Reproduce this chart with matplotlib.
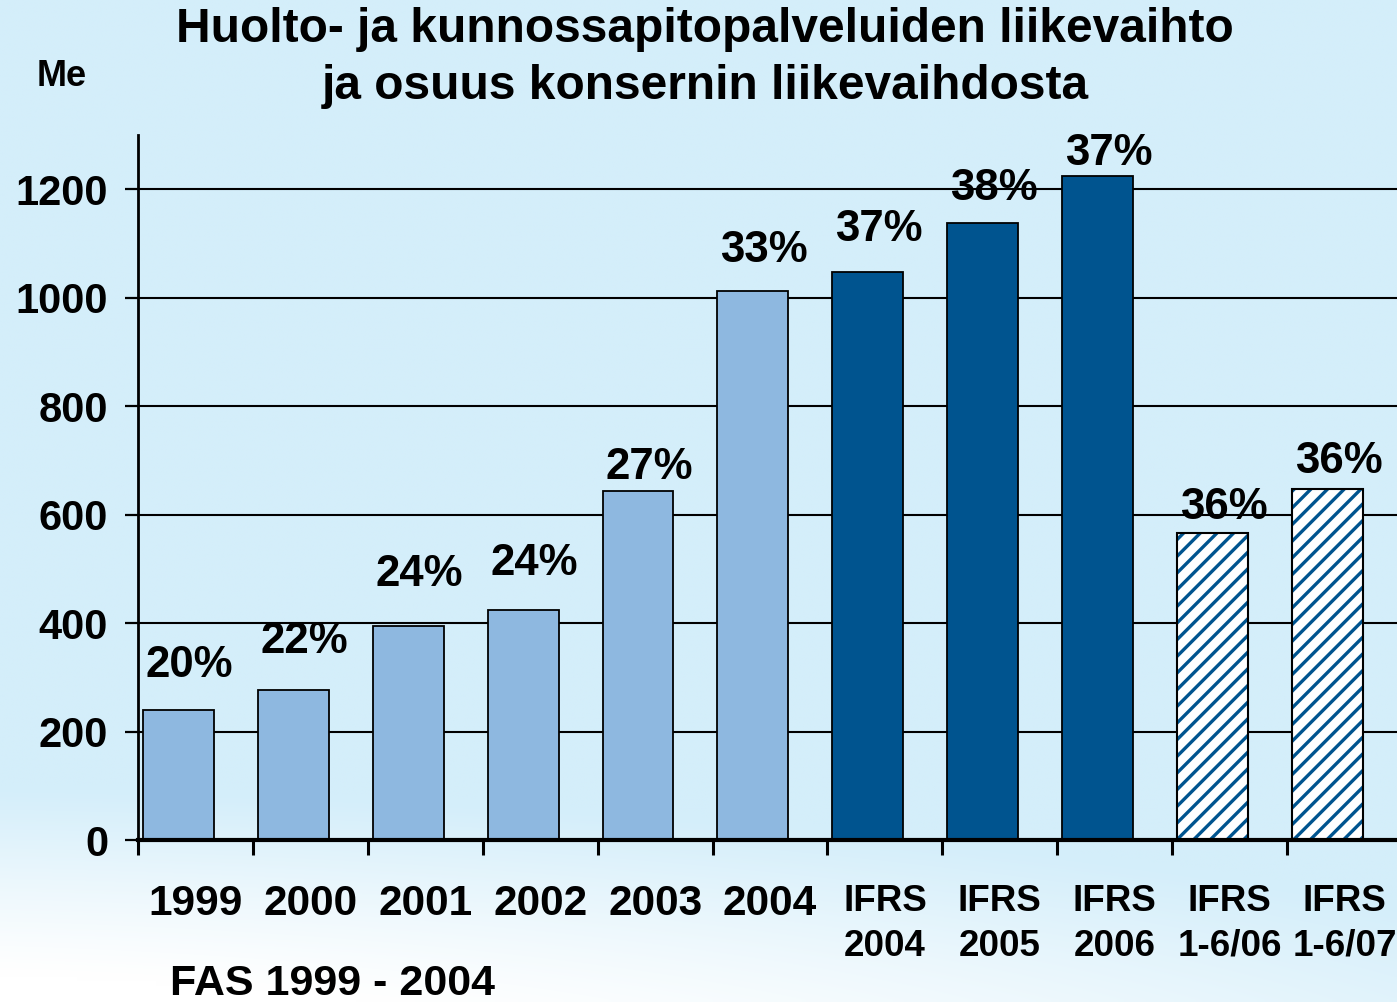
# -*- coding: utf-8 -*-
# huolto- ja kunnossapitopalveluiden liikevaihto pylväinä

import numpy as np
import matplotlib
matplotlib.use('Agg')
import matplotlib.pyplot as plt

plt.rcParams['font.family'] = ['Liberation Sans', 'DejaVu Sans']
plt.rcParams['font.weight'] = 'bold'
plt.rcParams['hatch.linewidth'] = 2.4

# liikevaihto (Me) ja osuus konsernin liikevaihdosta
categories = ['1999', '2000', '2001', '2002', '2003', '2004',
              'IFRS\n2004', 'IFRS\n2005', 'IFRS\n2006', 'IFRS\n1-6/06', 'IFRS\n1-6/07']
revenue = [240, 277, 394, 425, 643, 1013, 1048, 1137, 1224, 566, 647]
share = ['20%', '22%', '24%', '24%', '27%', '33%', '37%', '38%', '37%', '36%', '36%']
kind = ['fas'] * 6 + ['ifrs'] * 3 + ['half'] * 2

# how far each percent label sits above its bar (pixels)
label_lift = [44, 48, 52, 46, 24, 40, 42, 35, 23, 26, 28]

light = '#8EB8E0'
dark = '#00548F'

W, H = 1397, 1002
fig = plt.figure(figsize=(W / 100, H / 100), dpi=100)

# background: pale blue fading to white in the lower left corner
xx, yy = np.meshgrid(np.linspace(0, 1, 300), np.linspace(0, 1, 220))
d = ((xx + 0.15) / 1.35) ** 2 + ((1.12 - yy) / 0.30) ** 2
w = np.clip(1.25 - d, 0, 1) ** 1.2
base = np.array([0xD4, 0xEE, 0xFA]) / 255.0
img = base[None, None, :] * (1 - w[..., None]) + w[..., None]
bgax = fig.add_axes([0, 0, 1, 1])
bgax.imshow(img, aspect='auto', extent=[0, 1, 0, 1], origin='upper', interpolation='bilinear')
bgax.set_axis_off()

ax = fig.add_axes([138 / W, 162 / H, 1264 / W, 705 / H])
ax.patch.set_alpha(0)

x = np.arange(len(categories))
left = x + 0.043
width = 0.617

for i in range(len(categories)):
    if kind[i] == 'fas':
        ax.bar(left[i], revenue[i], width, align='edge', color=light,
               edgecolor='black', linewidth=1.3, zorder=3)
    elif kind[i] == 'ifrs':
        ax.bar(left[i], revenue[i], width, align='edge', color=dark,
               edgecolor='black', linewidth=1.3, zorder=3)
    else:
        ax.bar(left[i], revenue[i], width, align='edge', color='white',
               edgecolor=dark, hatch='//', linewidth=0, zorder=3)
        ax.bar(left[i], revenue[i], width, align='edge', fill=False,
               edgecolor='black', linewidth=1.5, zorder=4)
    ax.annotate(share[i], (x[i] + 0.45, revenue[i]),
                xytext=(0, label_lift[i] * 0.72), textcoords='offset points',
                ha='center', va='center', fontsize=31.5, fontweight='bold', zorder=5)

ax.set_xlim(0, 11)
ax.set_ylim(0, 1300)
ax.set_yticks(np.arange(0, 1201, 200))
ax.yaxis.grid(True, color='black', linewidth=1.5, zorder=1)
ax.set_axisbelow(True)

ax.set_xticks(x)
ax.set_xticklabels([])
ax.set_xticks(x + 0.5, minor=True)
ax.set_xticklabels(categories, minor=True)
for lab, k in zip(ax.get_xticklabels(minor=True), kind):
    lab.set_fontsize(30.5 if k == 'fas' else 26.5)
    lab.set_linespacing(1.34)

ax.tick_params(axis='x', which='major', direction='out', length=11, width=2.2)
ax.tick_params(axis='x', which='minor', length=0, pad=32)
ax.tick_params(axis='y', direction='out', length=9.5, width=1.6, labelsize=30, pad=12)

for s in ['top', 'right']:
    ax.spines[s].set_visible(False)
ax.spines['left'].set_linewidth(2)
ax.spines['bottom'].set_linewidth(3)
ax.spines['bottom'].set_zorder(6)

fig.text(705 / W, 1 - 58 / H, 'Huolto- ja kunnossapitopalveluiden liikevaihto\nja osuus konsernin liikevaihdosta',
         ha='center', va='center', fontsize=34.5, fontweight='bold', linespacing=1.36)
fig.text(62 / W, 1 - 77 / H, 'Me', ha='center', va='center', fontsize=26, fontweight='bold')
fig.text(333 / W, 1 - 984 / H, 'FAS 1999 - 2004', ha='center', va='center', fontsize=31, fontweight='bold')

plt.savefig('out.png', dpi=100)
